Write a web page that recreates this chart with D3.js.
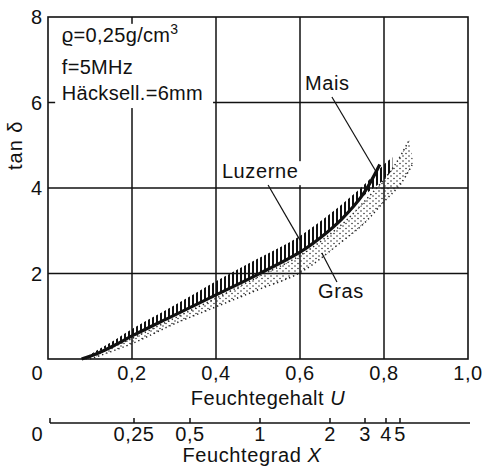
<!DOCTYPE html>
<html><head><meta charset="utf-8">
<script src="https://cdn.jsdelivr.net/npm/d3@7"></script>
<style>
body{margin:0;background:#fff}
svg{display:block}
text{font-family:"Liberation Sans",Arial,sans-serif;fill:#111;font-size:20px}
</style>
</head><body>
<svg id="c" width="483" height="468"></svg>
<script>
// ---- data ----
const uTicks = [0, 0.2, 0.4, 0.6, 0.8, 1.0];
const uTickLabels = ["0", "0,2", "0,4", "0,6", "0,8", "1,0"];
const yTicks = [2, 4, 6, 8];
const yTickLabels = ["2", "4", "6", "8"];
const xTicks = [0, 0.25, 0.5, 1, 2, 3, 4, 5];
const xTickLabels = ["0", "0,25", "0,5", "1", "2", "3", "4", "5"];

// Mais: thick solid curve  [U, tan δ]
const mais = [[0.08,0],[0.12,0.14],[0.16,0.33],[0.2,0.54],[0.3,1.02],[0.4,1.5],[0.5,1.98],[0.6,2.5],[0.65,2.85],[0.7,3.28],[0.75,3.85],[0.79,4.55]];
// Luzerne: hatched band
const luzerneUpper = [[0.085,0],[0.12,0.22],[0.16,0.45],[0.2,0.7],[0.3,1.25],[0.4,1.82],[0.5,2.35],[0.6,2.88],[0.7,3.62],[0.75,4.05],[0.8,4.55],[0.82,4.72]];
const luzerneLower = [[0.08,0],[0.2,0.54],[0.3,1.02],[0.4,1.5],[0.5,1.98],[0.6,2.5],[0.7,3.28],[0.75,3.8],[0.8,4.2],[0.82,4.42]];
// Gras: dotted band
const grasUpper = [[0.09,0],[0.2,0.48],[0.3,0.95],[0.4,1.42],[0.5,1.92],[0.6,2.42],[0.7,3.15],[0.75,3.65],[0.8,4.2],[0.83,4.6],[0.86,5.12]];
const grasLower = [[0.1,0],[0.2,0.36],[0.3,0.82],[0.4,1.22],[0.5,1.62],[0.6,2.02],[0.7,2.75],[0.75,3.15],[0.8,3.68],[0.84,4.1],[0.87,4.6]];

// labels with leader lines (data units)
const labels = [
  {text:"Mais",    u:0.612, t:6.29, from:[0.676,6.13], to:[0.783,4.35]},
  {text:"Luzerne", u:0.414, t:4.23, from:[0.524,4.07], to:[0.6,2.78], box:true},
  {text:"Gras",    u:0.643, t:1.43, from:[0.652,2.48], to:[0.688,1.80]}
];

// ---- drawing ----
const svg = d3.select("#c");
const x = d3.scaleLinear().domain([0,1]).range([48,468]);
const y = d3.scaleLinear().domain([0,8]).range([359,17]);
const xX = X => x(X/(1+X));

const defs = svg.append("defs");
const hatch = defs.append("pattern").attr("id","hatch").attr("patternUnits","userSpaceOnUse")
  .attr("width",4).attr("height",10);
hatch.append("rect").attr("x",0).attr("y",0).attr("width",2).attr("height",10).attr("fill","#111");
const dots = defs.append("pattern").attr("id","dots").attr("patternUnits","userSpaceOnUse")
  .attr("width",6).attr("height",5);
dots.append("circle").attr("cx",1).attr("cy",1).attr("r",0.75).attr("fill","#222");
dots.append("circle").attr("cx",4).attr("cy",3.5).attr("r",0.75).attr("fill","#222");

// grid
const g = svg.append("g").attr("stroke","#111").attr("stroke-width",1.5);
g.selectAll("line.v").data(uTicks.filter(d=>d>0&&d<1)).join("line")
  .attr("x1",d=>x(d)).attr("x2",d=>x(d)).attr("y1",y(0)).attr("y2",y(8));
g.selectAll("line.h").data([2,4,6]).join("line")
  .attr("x1",x(0)).attr("x2",x(1)).attr("y1",d=>y(d)).attr("y2",d=>y(d));

// white box hiding grid behind parameter text
svg.append("rect").attr("x",x(0.017)).attr("y",y(7.84)).attr("width",x(0.393)-x(0.017))
  .attr("height",y(5.87)-y(7.84)).attr("fill","#fff");

// frame
svg.append("rect").attr("x",x(0)).attr("y",y(8)).attr("width",x(1)-x(0)).attr("height",y(0)-y(8))
  .attr("fill","none").attr("stroke","#111").attr("stroke-width",1.6);

// bands
const cr = d3.line().x(d=>x(d[0])).y(d=>y(d[1])).curve(d3.curveCatmullRom.alpha(0.5));
function band(upper, lower){
  const a = cr(upper);
  const b = cr(lower.slice().reverse());
  return a + "L" + b.slice(1) + "Z";
}
svg.append("path").attr("d",band(grasUpper,grasLower)).attr("fill","url(#dots)");
[grasUpper, grasLower].forEach(edge=>{
  svg.append("path").datum(edge).attr("d",cr).attr("fill","none").attr("stroke","#222")
    .attr("stroke-width",1.5).attr("stroke-dasharray","1.3,3").attr("stroke-linecap","butt");
});
svg.append("path").attr("d",band(luzerneUpper,luzerneLower)).attr("fill","url(#hatch)");
svg.append("path").datum(mais).attr("d",cr)
  .attr("fill","none").attr("stroke","#111").attr("stroke-width",3.2).attr("stroke-linecap","butt");

// label boxes and leaders
labels.forEach(l=>{
  if(l.box){
    svg.append("rect").attr("x",x(l.u)-2).attr("y",y(l.t)-17).attr("width",84).attr("height",24).attr("fill","#fff");
  }
  svg.append("line").attr("x1",x(l.from[0])).attr("y1",y(l.from[1]))
    .attr("x2",x(l.to[0])).attr("y2",y(l.to[1])).attr("stroke","#111").attr("stroke-width",1.2);
  svg.append("text").attr("x",x(l.u)).attr("y",y(l.t)).text(l.text).attr("letter-spacing",0.6);
});

// parameter text
const pt = svg.append("text").attr("x",x(0.033)).attr("y",y(7.42)).attr("letter-spacing",0.3);
pt.append("tspan").text("ϱ=0,25g/cm");
pt.append("tspan").attr("dy",-8).attr("font-size",14).text("3");
svg.append("text").attr("x",x(0.033)).attr("y",y(6.67)).attr("letter-spacing",0.3).text("f=5MHz");
svg.append("text").attr("x",x(0.033)).attr("y",y(6.06)).attr("letter-spacing",0.3).text("Häcksell.=6mm");

// y tick labels
svg.selectAll("text.yt").data(yTicks).join("text")
  .attr("x",x(0)-6).attr("y",d=>y(d)).attr("dy","0.36em").attr("text-anchor","end")
  .text((d,i)=>yTickLabels[i]);
svg.append("text").attr("transform",`translate(22,${(y(4)+y(6))/2}) rotate(-90)`)
  .attr("text-anchor","middle").attr("letter-spacing",1).text("tan δ");

// x (U) tick labels
svg.selectAll("text.ut").data(uTicks).join("text")
  .attr("x",d=>d===0?x(d)-5:x(d)).attr("y",380)
  .attr("text-anchor",d=>d===0?"end":"middle").attr("letter-spacing",0.5)
  .text((d,i)=>uTickLabels[i]);
const ul = svg.append("text").attr("x",x(0.5)+10).attr("y",405).attr("text-anchor","middle").attr("letter-spacing",0.5);
ul.append("tspan").text("Feuchtegehalt ");
ul.append("tspan").attr("font-style","italic").text("U");

// second axis (Feuchtegrad X)
svg.append("line").attr("x1",x(0)+2).attr("x2",x(1)+2).attr("y1",423).attr("y2",423)
  .attr("stroke","#111").attr("stroke-width",1.5);
svg.selectAll("line.xt").data(xTicks).join("line")
  .attr("x1",d=>xX(d)+2).attr("x2",d=>xX(d)+2).attr("y1",423).attr("y2",418)
  .attr("stroke","#111").attr("stroke-width",1.5);
svg.selectAll("text.xt").data(xTicks).join("text")
  .attr("x",d=>d===0?xX(d)-5:xX(d)+2).attr("y",441).attr("font-size",18)
  .attr("text-anchor",d=>d===0?"end":"middle").attr("letter-spacing",0.5)
  .text((d,i)=>xTickLabels[i]);
const xl = svg.append("text").attr("x",x(0.5)-6).attr("y",462).attr("font-size",18).attr("text-anchor","middle").attr("letter-spacing",0.6);
xl.append("tspan").text("Feuchtegrad  ");
xl.append("tspan").attr("font-style","italic").text("X");
</script>
</body></html>
